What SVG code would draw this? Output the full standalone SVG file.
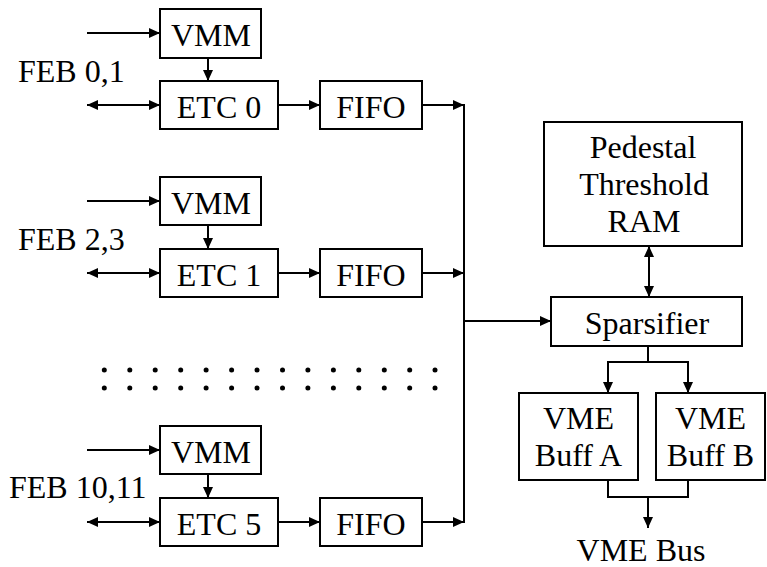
<svg xmlns="http://www.w3.org/2000/svg" width="767" height="567" viewBox="0 0 767 567">
  <style>
    .box { fill: #fff; stroke: #000; stroke-width: 2; }
    text { font-size: 32px; fill: #000; }
    .lbl { text-anchor: middle; }
    .serif { font-family: "Liberation Serif", "Times New Roman", serif; }
    .wire { fill: none; stroke: #000; stroke-width: 2; }
    .arr { marker-end: url(#head); }
    .both { marker-start: url(#headR); marker-end: url(#head); }
  </style>
  <defs>
    <marker id="head" markerUnits="userSpaceOnUse" markerWidth="12" markerHeight="10" refX="11" refY="5" orient="auto">
      <path d="M0,0 L11,5 L0,10 Z" fill="#000"/>
    </marker>
    <marker id="headR" markerUnits="userSpaceOnUse" markerWidth="12" markerHeight="10" refX="1" refY="5" orient="auto">
      <path d="M12,0 L1,5 L12,10 Z" fill="#000"/>
    </marker>
  </defs>

  <!-- front-end board labels -->
  <text class="serif" x="18" y="82">FEB 0,1</text>
  <text class="serif" x="18" y="250">FEB 2,3</text>
  <text class="serif" x="9" y="498">FEB 10,11</text>

  <!-- channel 0 -->
  <g id="vmm0"><rect class="box" x="160" y="9" width="101" height="49"/><text class="lbl serif" x="211" y="46">VMM</text></g>
  <g id="etc0"><rect class="box" x="160" y="81" width="118" height="48"/><text class="lbl serif" x="219" y="118">ETC 0</text></g>
  <g id="fifo0"><rect class="box" x="320" y="81" width="102" height="48"/><text class="lbl serif" x="371" y="118">FIFO</text></g>

  <!-- channel 1 -->
  <g id="vmm1"><rect class="box" x="160" y="177" width="101" height="48"/><text class="lbl serif" x="211" y="214">VMM</text></g>
  <g id="etc1"><rect class="box" x="160" y="249" width="118" height="48"/><text class="lbl serif" x="219" y="286">ETC 1</text></g>
  <g id="fifo1"><rect class="box" x="320" y="249" width="102" height="48"/><text class="lbl serif" x="371" y="286">FIFO</text></g>

  <!-- channel 5 -->
  <g id="vmm5"><rect class="box" x="160" y="426" width="101" height="48"/><text class="lbl serif" x="211" y="463">VMM</text></g>
  <g id="etc5"><rect class="box" x="160" y="498" width="118" height="48"/><text class="lbl serif" x="219" y="535">ETC 5</text></g>
  <g id="fifo5"><rect class="box" x="320" y="498" width="102" height="48"/><text class="lbl serif" x="371" y="535">FIFO</text></g>

  <!-- back end -->
  <g id="ram"><rect class="box" x="544" y="122" width="198" height="124"/>
    <text class="lbl serif" x="643" y="158">Pedestal</text>
    <text class="lbl serif" x="644" y="195">Threshold</text>
    <text class="lbl serif" x="644" y="232">RAM</text>
  </g>
  <g id="sparsifier"><rect class="box" x="551" y="297" width="191" height="49"/><text class="lbl serif" x="647" y="334">Sparsifier</text></g>
  <g id="buffA"><rect class="box" x="519" y="393" width="119" height="87"/>
    <text class="lbl serif" x="578.5" y="429">VME</text><text class="lbl serif" x="578.5" y="466">Buff A</text></g>
  <g id="buffB"><rect class="box" x="656" y="393" width="109" height="87"/>
    <text class="lbl serif" x="710.5" y="429">VME</text><text class="lbl serif" x="710.5" y="466">Buff B</text></g>
  <text id="vmebus" class="lbl serif" x="641" y="561">VME Bus</text>

  <!-- omitted channels -->
  <g id="ellipsis" fill="#000">
    <circle cx="104.3" cy="370" r="2.5"/><circle cx="129.8" cy="370" r="2.5"/><circle cx="155.2" cy="370" r="2.5"/><circle cx="180.7" cy="370" r="2.5"/><circle cx="206.1" cy="370" r="2.5"/><circle cx="231.6" cy="370" r="2.5"/><circle cx="257" cy="370" r="2.5"/><circle cx="282.5" cy="370" r="2.5"/><circle cx="307.9" cy="370" r="2.5"/><circle cx="333.4" cy="370" r="2.5"/><circle cx="358.8" cy="370" r="2.5"/><circle cx="384.3" cy="370" r="2.5"/><circle cx="409.7" cy="370" r="2.5"/><circle cx="435" cy="370" r="2.5"/>
    <circle cx="104.3" cy="388" r="2.5"/><circle cx="129.8" cy="388" r="2.5"/><circle cx="155.2" cy="388" r="2.5"/><circle cx="180.7" cy="388" r="2.5"/><circle cx="206.1" cy="388" r="2.5"/><circle cx="231.6" cy="388" r="2.5"/><circle cx="257" cy="388" r="2.5"/><circle cx="282.5" cy="388" r="2.5"/><circle cx="307.9" cy="388" r="2.5"/><circle cx="333.4" cy="388" r="2.5"/><circle cx="358.8" cy="388" r="2.5"/><circle cx="384.3" cy="388" r="2.5"/><circle cx="409.7" cy="388" r="2.5"/><circle cx="435" cy="388" r="2.5"/>
  </g>

  <g id="connectors">
    <!-- channel 0 -->
    <line class="wire arr" x1="87" y1="33" x2="160" y2="33"/>
    <line class="wire both" x1="87" y1="105" x2="160" y2="105"/>
    <line class="wire arr" x1="208" y1="58" x2="208" y2="81"/>
    <line class="wire arr" x1="278" y1="105" x2="320" y2="105"/>
    <line class="wire arr" x1="422" y1="105" x2="464" y2="105"/>
    <!-- channel 1 -->
    <line class="wire arr" x1="87" y1="201" x2="160" y2="201"/>
    <line class="wire both" x1="87" y1="273" x2="160" y2="273"/>
    <line class="wire arr" x1="208" y1="225" x2="208" y2="249"/>
    <line class="wire arr" x1="278" y1="273" x2="320" y2="273"/>
    <line class="wire arr" x1="422" y1="273" x2="464" y2="273"/>
    <!-- channel 5 -->
    <line class="wire arr" x1="87" y1="450" x2="160" y2="450"/>
    <line class="wire both" x1="87" y1="522" x2="160" y2="522"/>
    <line class="wire arr" x1="208" y1="474" x2="208" y2="498"/>
    <line class="wire arr" x1="278" y1="522" x2="320" y2="522"/>
    <line class="wire arr" x1="422" y1="522" x2="464" y2="522"/>
    <!-- shared bus into sparsifier -->
    <line class="wire" x1="464" y1="104" x2="464" y2="523"/>
    <line class="wire arr" x1="464" y1="321" x2="551" y2="321"/>
    <line class="wire both" x1="649" y1="246" x2="649" y2="297"/>
    <!-- sparsifier to buffers -->
    <polyline class="wire" points="648,346 648,362"/>
    <polyline class="wire arr" points="648,362 608,362 608,393"/>
    <polyline class="wire arr" points="648,362 688,362 688,393"/>
    <!-- buffers to VME bus -->
    <polyline class="wire" points="608,480 608,497 688,497 688,480"/>
    <line class="wire arr" x1="648" y1="497" x2="648" y2="528"/>
  </g>
</svg>
